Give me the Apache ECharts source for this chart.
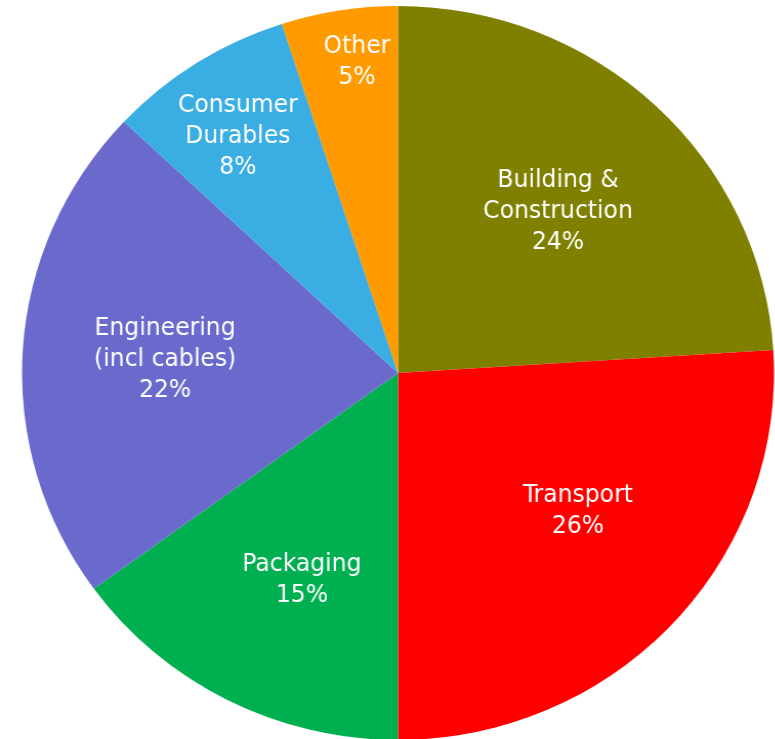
<!DOCTYPE html>
<html>
<head>
<meta charset="utf-8">
<script src="https://cdn.jsdelivr.net/npm/echarts@6/dist/echarts.min.js"></script>
<style>
  html, body { margin: 0; padding: 0; background: #fff; overflow: hidden; }
  /* the source picture is a bit wider than tall, so stretch the canvas a little */
  #main { width: 757px; height: 739px; transform: scaleX(1.0245); transform-origin: 0 0; }
</style>
</head>
<body>
<div id="main"></div>
<script>
// 各行业占比（%）
var sectors = ["Building &\nConstruction", "Transport", "Packaging", "Engineering\n(incl cables)", "Consumer\nDurables", "Other"];
var shares = [24, 26, 15, 22, 8, 5];
var colors = ["#808000", "#FF0000", "#00B050", "#6A6ACD", "#3AADE2", "#FF9A00"];
// label placement: distance from centre (part of radius) and small turn from mid angle (deg)
var labelDist = [0.617, 0.605, 0.614, 0.621, 0.778, 0.86];
var labelTurn = [0.4, -5.5, -2.4, 0.4, -0.8, 1.7];

var cx = 388.5, cy = 373, R = 367;

var myChart = echarts.init(document.getElementById("main"));

var total = shares.reduce(function (a, b) { return a + b; }, 0);

var data = [];
for (var i = 0; i < sectors.length; i++) {
  data.push({ name: sectors[i], value: shares[i], itemStyle: { color: colors[i] } });
}

var option = {
  animation: false,
  series: [
    {
      type: "pie",
      center: [cx, cy],
      radius: [0, R],
      startAngle: 90,
      clockwise: true,
      silent: true,
      itemStyle: { borderWidth: 0 },
      label: {
        show: true,
        position: "inside",
        formatter: "{b}\n{c}%",
        color: "#fff",
        fontFamily: "DejaVu Sans Condensed, DejaVu Sans, sans-serif",
        fontSize: 25.5,
        lineHeight: 31,
        align: "center"
      },
      labelLine: { show: false },
      labelLayout: function (p) {
        var idx = p.dataIndex;
        var cum = 0;
        for (var k = 0; k < idx; k++) cum += shares[k];
        var a = 2 * Math.PI * (cum + shares[idx] / 2) / total + labelTurn[idx] * Math.PI / 180;
        var r = labelDist[idx] * R;
        return {
          x: cx + r * Math.sin(a),
          y: cy + 2 - r * Math.cos(a),
          align: "center",
          verticalAlign: "middle"
        };
      },
      data: data
    }
  ]
};

myChart.setOption(option);
</script>
</body>
</html>
